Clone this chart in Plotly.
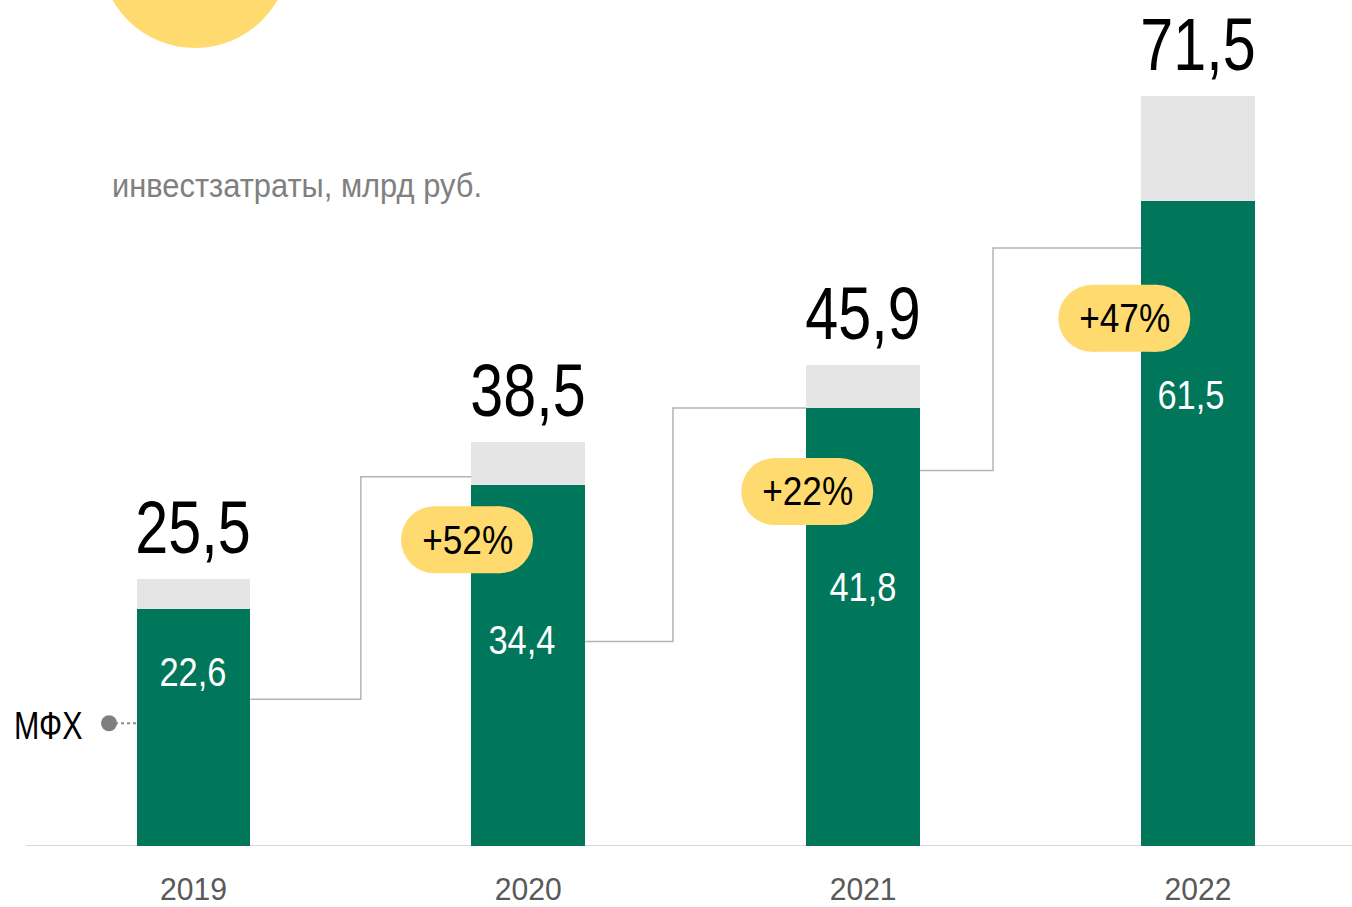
import json
import plotly.graph_objects as go

# ---- data ----
years = ["2019", "2020", "2021", "2022"]
totals = [25.5, 38.5, 45.9, 71.5]
mfh = [22.6, 34.4, 41.8, 61.5]
total_labels = ["25,5", "38,5", "45,9", "71,5"]
mfh_labels = ["22,6", "34,4", "41,8", "61,5"]
growth_labels = ["+52%", "+22%", "+47%"]
subtitle = "инвестзатраты, млрд руб."
series_name = "МФХ"

# ---- style / layout constants ----
GREEN = "#00765A"
GREY = "#E5E5E5"
YELLOW = "#FFDB6F"
FONT = "Liberation Sans, Arial, sans-serif"
W, H = 1352, 907
ML, MB = 26, 61
BAR_W = 0.34
XR = [-0.5, 3.46]
YR = [0, 80.65]

# decorative positions (data units)
mfh_label_y = [16.6, 19.6, 24.7, 43.0]
mfh_label_dx = [0.0, -0.02, 0.0, -0.02]
pill_pos = [(0.817, 29.2), (1.833, 33.8), (2.78, 50.3)]
conn_mid_x = [0.5, 1.432, 2.388]
conn_low_y = [14.0, 19.5, 35.8]
conn_high_y = [35.2, 41.75, 57.0]

x = list(range(len(years)))
rest = [round(t - m, 2) for t, m in zip(totals, mfh)]

fig = go.Figure()

# connectors (drawn under bars)
for i in range(len(years) - 1):
    fig.add_trace(go.Scatter(
        x=[i + BAR_W / 2, conn_mid_x[i], conn_mid_x[i], i + 1 - BAR_W / 2],
        y=[conn_low_y[i], conn_low_y[i], conn_high_y[i], conn_high_y[i]],
        mode="lines", line=dict(color="#B4B4B4", width=1.5),
        hoverinfo="skip", showlegend=False))

fig.add_trace(go.Bar(x=x, y=mfh, width=BAR_W, marker=dict(color=GREEN, line_width=0),
                     name=series_name, showlegend=False))
fig.add_trace(go.Bar(x=x, y=rest, width=BAR_W, marker=dict(color=GREY, line_width=0),
                     showlegend=False))

# legend marker for МФХ
fig.add_trace(go.Scatter(x=[-0.252, -BAR_W / 2], y=[11.7, 11.7], mode="lines",
                         line=dict(color="#8C8C8C", width=2, dash="dot"),
                         hoverinfo="skip", showlegend=False))
fig.add_trace(go.Scatter(x=[-0.252], y=[11.7], mode="markers",
                         marker=dict(color="#7F7F7F", size=16),
                         hoverinfo="skip", showlegend=False))

shapes = []
shapes.append(dict(type="line", xref="paper", yref="y", x0=0, x1=1, y0=0, y1=0,
                   line=dict(color="#D9D9D9", width=2), layer="below"))
shapes.append(dict(type="circle", xref="paper", yref="paper", xsizemode="pixel",
                   ysizemode="pixel", xanchor=0, yanchor=1, x0=74, x1=264, y0=-48, y1=142,
                   fillcolor=YELLOW, line_width=0, layer="below"))
PW, PH = 132, 67
r = PH / 2
for (cx, cy) in pill_pos:
    base = dict(xref="x", yref="y", xsizemode="pixel", ysizemode="pixel",
                xanchor=cx, yanchor=cy, fillcolor=YELLOW, line_width=0, layer="above")
    shapes.append(dict(type="rect", x0=-PW / 2 + r, x1=PW / 2 - r, y0=-r, y1=r, **base))
    shapes.append(dict(type="circle", x0=-PW / 2, x1=-PW / 2 + 2 * r, y0=-r, y1=r, **base))
    shapes.append(dict(type="circle", x0=PW / 2 - 2 * r, x1=PW / 2, y0=-r, y1=r, **base))

# horizontal condensing of text (the original uses a narrow typeface)
squash = {}
annotations = []
for i in x:
    annotations.append(dict(x=i, y=totals[i], text=total_labels[i], showarrow=False,
                            yanchor="bottom", yshift=8,
                            font=dict(family=FONT, size=75, color="#000000")))
    squash[total_labels[i]] = [0.79, "c"]
    annotations.append(dict(x=i + mfh_label_dx[i], y=mfh_label_y[i], text=mfh_labels[i],
                            showarrow=False, yanchor="middle",
                            font=dict(family=FONT, size=41, color="#FFFFFF")))
    squash[mfh_labels[i]] = [0.84, "c"]
    squash[years[i]] = [0.94, "c"]
for (cx, cy), t in zip(pill_pos, growth_labels):
    annotations.append(dict(x=cx, y=cy, text=t, showarrow=False, yanchor="middle",
                            font=dict(family=FONT, size=40, color="#000000")))
    squash[t] = [0.88, "c"]
annotations.append(dict(xref="paper", x=(110 - ML) / (W - ML), y=63.0, text=subtitle,
                        showarrow=False, xanchor="left", yanchor="middle",
                        font=dict(family=FONT, size=33, color="#808080")))
squash[subtitle] = [0.935, "l"]
annotations.append(dict(xref="paper", x=(84 - ML) / (W - ML), y=11.44, text=series_name,
                        showarrow=False, xanchor="right", yanchor="middle",
                        font=dict(family=FONT, size=38, color="#000000")))
squash[series_name] = [0.8, "r"]

fig.update_layout(
    width=W, height=H,
    margin=dict(l=ML, r=0, t=0, b=MB, pad=0),
    paper_bgcolor="white", plot_bgcolor="white",
    barmode="stack", bargap=0,
    shapes=shapes, annotations=annotations,
    xaxis=dict(range=XR, tickvals=x, ticktext=years, showgrid=False, zeroline=False,
               showline=False, ticks="", ticklabelstandoff=21, automargin=False,
               tickfont=dict(family=FONT, size=32, color="#595959")),
    yaxis=dict(range=YR, visible=False, showgrid=False, zeroline=False, automargin=False),
)

post = """
document.body.style.margin = '0';
document.body.style.overflow = 'hidden';
var gd = document.getElementById('{plot_id}');
var F = SQUASH;
function shiftX(el, d) {
  var xv = el.getAttribute('x');
  if (xv !== null) el.setAttribute('x', parseFloat(xv) + d);
  el.querySelectorAll('tspan[x]').forEach(function (s) {
    s.setAttribute('x', parseFloat(s.getAttribute('x')) + d);
  });
}
gd.querySelectorAll('text.annotation-text, .xtick text').forEach(function (t) {
  var k = t.textContent;
  if (!(k in F)) return;
  var f = F[k][0], a = F[k][1];
  var b0 = t.getBBox();
  t.setAttribute('lengthAdjust', 'spacingAndGlyphs');
  t.setAttribute('textLength', (b0.width * f).toFixed(2));
  var b1 = t.getBBox();
  var d;
  if (a === 'l') d = b0.x - b1.x;
  else if (a === 'r') d = (b0.x + b0.width) - (b1.x + b1.width);
  else d = (b0.x + b0.width / 2) - (b1.x + b1.width / 2);
  if (Math.abs(d) > 0.1) shiftX(t, d);
});
""".replace("SQUASH", json.dumps(squash, ensure_ascii=False))

fig.write_html("out.html", post_script=post, config={"displayModeBar": False})
